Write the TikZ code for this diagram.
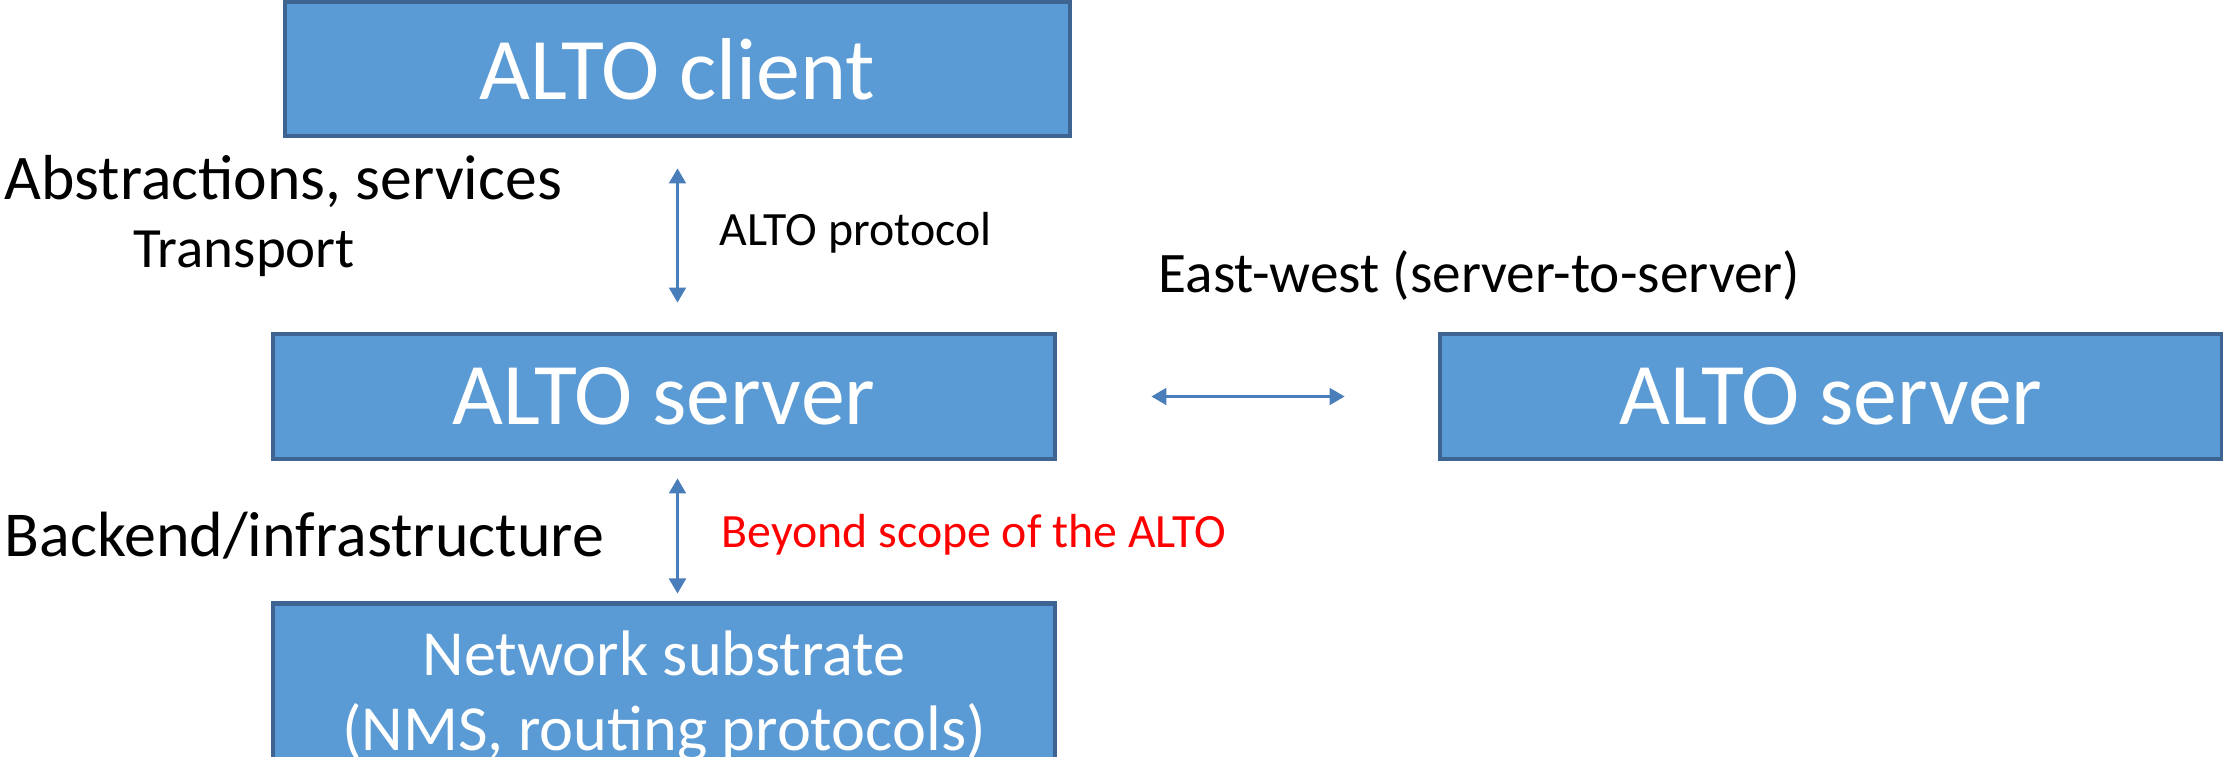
\documentclass[tikz,border=0pt]{standalone}
\usepackage{fontspec}
\setmainfont{Carlito}
\usepackage{tikz}
\usetikzlibrary{arrows.meta, calc}
\definecolor{altofill}{RGB}{91, 155, 213}
\definecolor{altoedge}{RGB}{62, 100, 146}
\definecolor{altoarrow}{RGB}{74, 126, 187}
\definecolor{altored}{RGB}{255, 0, 0}

\begin{document}
\begin{tikzpicture}[
    altobox/.style={draw=altoedge, fill=altofill, line width=1.4pt, text=white,
      inner sep=0pt, minimum width=7.82cm, minimum height=1.25cm},
    dblarrow/.style={{Triangle[width=0.17cm, length=0.15cm]}-{Triangle[width=0.17cm, length=0.15cm]},
      draw=altoarrow, line width=0.6pt},
    sidelabel/.style={anchor=base west, inner sep=0pt}
  ]
        \useasboundingbox (0,0) rectangle (22.23,-7.57);
        \clip (0,0) rectangle (22.23,-7.57);
        % Boxes
        \node[altobox, minimum width=7.85cm, minimum height=1.34cm, font=\fontsize{25}{30}\selectfont]
          (client) at (6.775,-0.69) {ALTO client};
        \node[altobox, font=\fontsize{25}{30}\selectfont] (server) at (6.64,-3.965) {ALTO server};
        \node[altobox, font=\fontsize{25}{30}\selectfont] (peer) at (18.31,-3.965) {ALTO server};
        \node[altobox, anchor=north, minimum height=1.85cm, align=center,
          font=\fontsize{18.3}{21.3}\selectfont] (substrate) at (6.64,-6.015)
          {Network substrate\\(NMS, routing protocols)};
        % Arrows between the boxes
        \draw[dblarrow, shorten <=0.3cm, shorten >=0.29cm] (client.south) -- (client.south |- server.north);
        \draw[dblarrow, shorten <=0.17cm, shorten >=0.08cm]
          (client.south |- server.south) -- (client.south |- substrate.north);
        \draw[dblarrow, shorten <=0.94cm, shorten >=0.93cm] (server.east) -- (peer.west);
        % Labels
        \node[sidelabel, font=\fontsize{18.1}{22}\selectfont] (abstr) at (0.04,-2.00) {Abstractions, services};
        \node[sidelabel, font=\fontsize{16.2}{19}\selectfont] (transp) at (1.33,-2.68) {Transport};
        \node[sidelabel, font=\fontsize{13.6}{16}\selectfont] (proto) at (7.19,-2.46) {ALTO protocol};
        \node[sidelabel, font=\fontsize{16.3}{19}\selectfont] (eastwest) at (11.58,-2.93) {East-west (server-to-server)};
        \node[sidelabel, font=\fontsize{18.2}{22}\selectfont] (backend) at (0.04,-5.57) {Backend/infrastructure};
        \node[sidelabel, font=\fontsize{13.6}{16}\selectfont, text=altored] (scope) at (7.21,-5.48)
          {Beyond scope of the ALTO};
      \end{tikzpicture}
\end{document}
